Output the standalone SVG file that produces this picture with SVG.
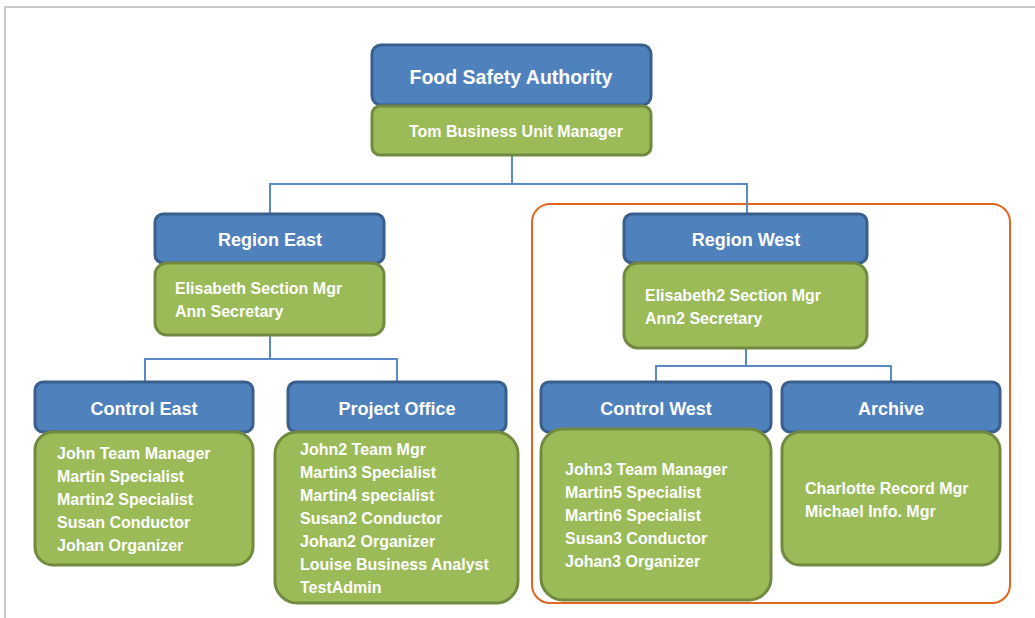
<svg xmlns="http://www.w3.org/2000/svg" width="1035" height="618" viewBox="0 0 1035 618">
<style>
.hd{fill:#4F81BD;stroke:#3A5F8E;stroke-width:3}
.bd{fill:#9BBB59;stroke:#728A40;stroke-width:3}
.ht{font-family:"Liberation Sans",Arial,sans-serif;font-weight:bold;font-size:18px;fill:#fff;text-anchor:middle}
.bt{font-family:"Liberation Sans",Arial,sans-serif;font-weight:bold;font-size:16px;fill:#fff}
.cn{fill:none;stroke:#5A8AC6;stroke-width:2}
</style>
<rect width="1035" height="618" fill="#fff"/>
<path d="M5,618 V7 H1035" fill="none" stroke="#c8c8c8" stroke-width="2"/>
<rect x="532" y="204" width="478" height="399" rx="18" fill="none" stroke="#E2661E" stroke-width="2"/>
<g id="connectors">
<path class="cn" d="M512,155 V184 M270,213 V184 H747 V214"/>
<path class="cn" d="M270,335 V359 M145,383 V359 H397 V383"/>
<path class="cn" d="M746,348 V366 M656,383 V366 H891 V383"/>
</g>
<g id="n-fsa">
<rect class="hd" x="372" y="45" width="279" height="60" rx="9"/>
<rect class="bd" x="372" y="106" width="279" height="49" rx="8"/>
<text class="ht" x="511" y="84" style="font-size:19.5px">Food Safety Authority</text>
<text class="bt" x="409" y="137">Tom Business Unit Manager</text>
</g>
<g id="n-east">
<rect class="hd" x="155" y="214" width="229" height="49" rx="8"/>
<rect class="bd" x="155" y="263" width="229" height="72" rx="12"/>
<text class="ht" x="270" y="246">Region East</text>
<text class="bt" x="175" y="294">Elisabeth Section Mgr</text>
<text class="bt" x="175" y="317">Ann Secretary</text>
</g>
<g id="n-west">
<rect class="hd" x="624" y="214" width="243" height="49" rx="8"/>
<rect class="bd" x="624" y="263" width="243" height="85" rx="14"/>
<text class="ht" x="746" y="246">Region West</text>
<text class="bt" x="645" y="301">Elisabeth2 Section Mgr</text>
<text class="bt" x="645" y="324">Ann2 Secretary</text>
</g>
<g id="n-ceast">
<rect class="hd" x="35" y="382" width="218" height="50" rx="8"/>
<rect class="bd" x="35" y="432" width="218" height="133" rx="18"/>
<text class="ht" x="144" y="415">Control East</text>
<text class="bt" x="57" y="459">John Team Manager</text>
<text class="bt" x="57" y="482">Martin Specialist</text>
<text class="bt" x="57" y="505">Martin2 Specialist</text>
<text class="bt" x="57" y="528">Susan Conductor</text>
<text class="bt" x="57" y="551">Johan Organizer</text>
</g>
<g id="n-po">
<rect class="hd" x="288" y="382" width="218" height="50" rx="8"/>
<rect class="bd" x="275" y="432" width="243" height="171" rx="22"/>
<text class="ht" x="397" y="415">Project Office</text>
<text class="bt" x="300" y="455">John2 Team Mgr</text>
<text class="bt" x="300" y="478">Martin3 Specialist</text>
<text class="bt" x="300" y="501">Martin4 specialist</text>
<text class="bt" x="300" y="524">Susan2 Conductor</text>
<text class="bt" x="300" y="547">Johan2 Organizer</text>
<text class="bt" x="300" y="570">Louise Business Analyst</text>
<text class="bt" x="300" y="593">TestAdmin</text>
</g>
<g id="n-cwest">
<rect class="hd" x="541" y="382" width="230" height="50" rx="8"/>
<rect class="bd" x="541" y="429" width="230" height="171" rx="22"/>
<text class="ht" x="656" y="415">Control West</text>
<text class="bt" x="565" y="475">John3 Team Manager</text>
<text class="bt" x="565" y="498">Martin5 Specialist</text>
<text class="bt" x="565" y="521">Martin6 Specialist</text>
<text class="bt" x="565" y="544">Susan3 Conductor</text>
<text class="bt" x="565" y="567">Johan3 Organizer</text>
</g>
<g id="n-archive">
<rect class="hd" x="782" y="382" width="218" height="50" rx="8"/>
<rect class="bd" x="782" y="432" width="218" height="133" rx="18"/>
<text class="ht" x="891" y="415">Archive</text>
<text class="bt" x="805" y="494">Charlotte Record Mgr</text>
<text class="bt" x="805" y="517">Michael Info. Mgr</text>
</g>
</svg>
